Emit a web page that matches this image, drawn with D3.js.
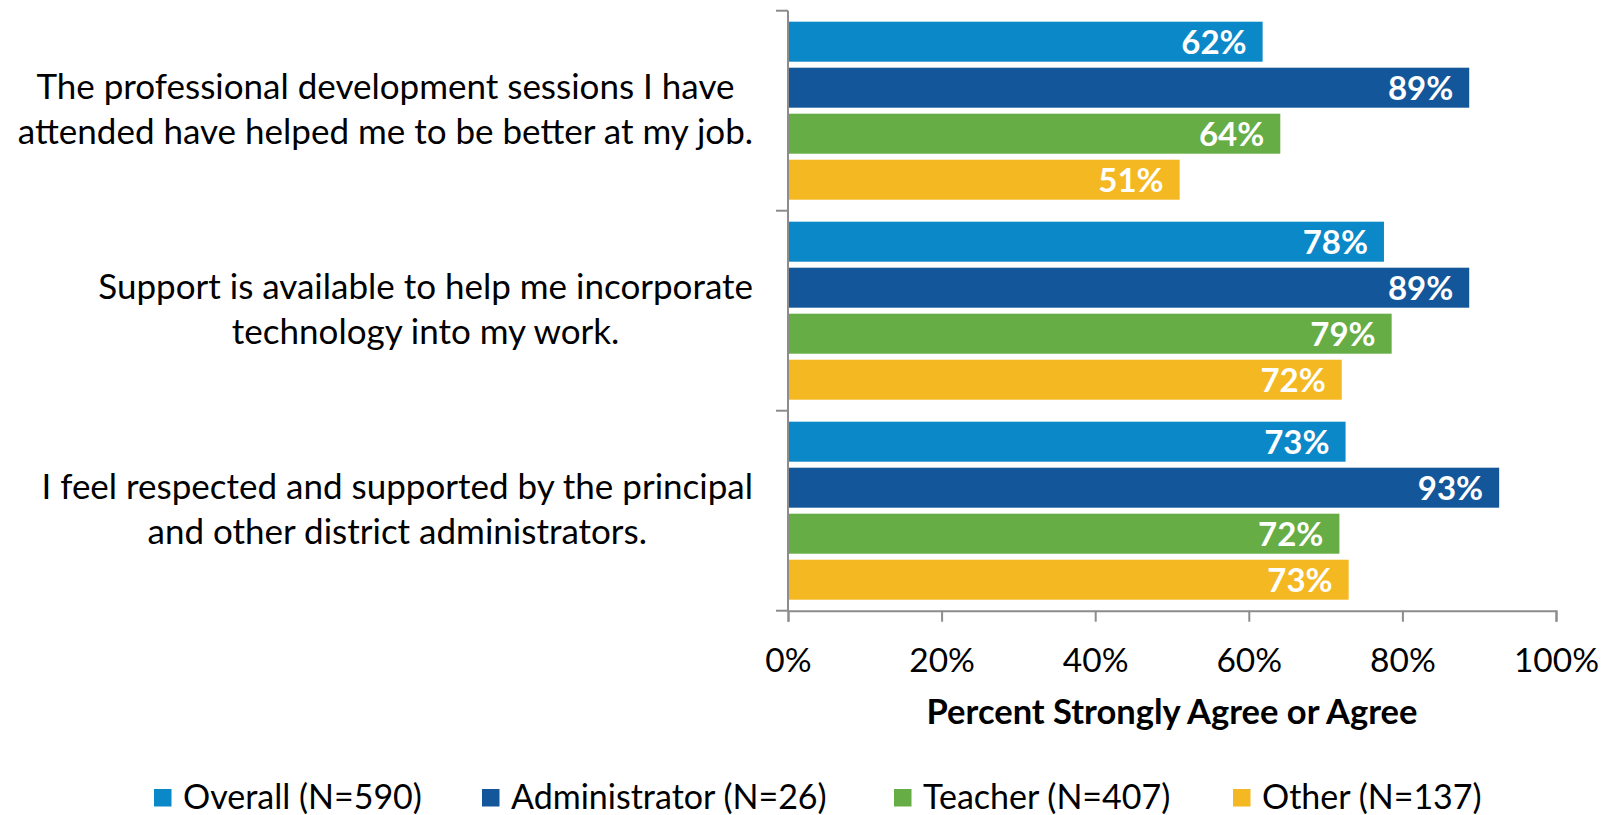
<!DOCTYPE html>
<html>
<head>
<meta charset="utf-8">
<script src="https://cdn.jsdelivr.net/npm/d3@7"></script>
<style>
  html, body { margin: 0; padding: 0; background: #fff; }
  svg { display: block; font-family: Lato, "Open Sans", sans-serif; }
</style>
</head>
<body>
<svg id="chart" width="1611" height="815"></svg>
<script>
// ---- data ----
const categories = [
  ["The professional development sessions I have", "attended have helped me to be better at my job."],
  ["Support is available to help me incorporate", "technology into my work."],
  ["I feel respected and supported by the principal", "and other district administrators."]
];
const seriesNames = ["Overall (N=590)", "Administrator (N=26)", "Teacher (N=407)", "Other (N=137)"];
const overall       = [61.8, 77.6, 72.6];
const administrator = [88.7, 88.7, 92.6];
const teacher       = [64.1, 78.6, 71.8];
const other         = [51.0, 72.1, 73.0];
const xTicks = [0, 20, 40, 60, 80, 100];
const xTitle = "Percent Strongly Agree or Agree";
const colors = ["#0B88C8", "#14569A", "#66AD46", "#F4B823"];

const series = [overall, administrator, teacher, other];

(function draw() {
const svg = d3.select("#chart");
const mLeft = 788, mRight = 1556, mTop = 10.7, mBottom = 610.7;

const x = d3.scaleLinear().domain([0, 100]).range([mLeft, mRight]);
const y0 = d3.scaleBand().domain(d3.range(categories.length)).range([mTop, mBottom]).padding(0);
const y1 = d3.scaleBand().domain(d3.range(series.length)).range([0, y0.bandwidth()])
  .paddingInner(0.1304).paddingOuter(0.2391);

// bars
const groups = svg.selectAll("g.grp").data(categories).join("g")
  .attr("class", "grp")
  .attr("transform", (d, i) => `translate(0,${y0(i)})`);

groups.each(function(cat, ci) {
  const g = d3.select(this);
  const rows = series.map((s, si) => ({ si, v: s[ci] }));
  g.selectAll("rect").data(rows).join("rect")
    .attr("x", x(0))
    .attr("y", d => y1(d.si))
    .attr("width", d => x(d.v) - x(0))
    .attr("height", y1.bandwidth())
    .attr("fill", d => colors[d.si]);
  g.selectAll("text.val").data(rows).join("text")
    .attr("class", "val")
    .attr("x", d => x(d.v) - 16)
    .attr("y", d => y1(d.si) + y1.bandwidth() / 2 + 12)
    .attr("text-anchor", "end")
    .attr("fill", "#fff")
    .attr("font-weight", 700)
    .attr("font-size", 33)
    .text(d => Math.round(d.v) + "%");
});

// category labels: block right-aligned near the axis, lines centred in the block
const labelRight = mLeft - 35;
const catG = svg.append("g");
categories.forEach((lines, i) => {
  const cy = y0(i) + y0.bandwidth() / 2;
  const t = catG.append("text")
    .attr("text-anchor", "middle")
    .attr("font-size", 35)
    .attr("fill", "#000");
  const spans = lines.map((ln, li) => t.append("tspan")
      .attr("y", cy + 10.7 + (li - (lines.length - 1) / 2) * 45.4)
      .text(ln));
  const maxW = d3.max(spans, s => s.node().getComputedTextLength());
  spans.forEach(s => s.attr("x", labelRight - maxW / 2));
});

// axes
const axisColor = "#8c8c8c";
const yAxisG = svg.append("g");
yAxisG.append("line")
  .attr("x1", mLeft).attr("x2", mLeft).attr("y1", mTop).attr("y2", mBottom)
  .attr("stroke", axisColor).attr("stroke-width", 2);
const yTickPos = d3.range(categories.length + 1).map(i => i === categories.length ? mBottom : y0(i));
yAxisG.selectAll("line.tk").data(yTickPos).join("line")
  .attr("class", "tk")
  .attr("x1", mLeft - 12).attr("x2", mLeft)
  .attr("y1", d => d).attr("y2", d => d)
  .attr("stroke", axisColor).attr("stroke-width", 2);

const xAxisG = svg.append("g").attr("transform", `translate(0,${mBottom})`)
  .call(d3.axisBottom(x).tickValues(xTicks).tickSize(11).tickPadding(27).tickFormat(d => d + "%"));
xAxisG.select(".domain").attr("stroke", axisColor).attr("stroke-width", 2);
xAxisG.selectAll(".tick line").attr("stroke", axisColor).attr("stroke-width", 2);
xAxisG.selectAll(".tick text")
  .attr("font-family", "Lato, sans-serif")
  .attr("font-size", 33.5)
  .attr("fill", "#000");

// axis title
svg.append("text")
  .attr("x", (mLeft + mRight) / 2)
  .attr("y", 724)
  .attr("text-anchor", "middle")
  .attr("font-weight", 700)
  .attr("font-size", 34.5)
  .attr("fill", "#000")
  .text(xTitle);

// legend
const legendX = [154, 482, 894, 1233];
const leg = svg.append("g");
seriesNames.forEach((name, i) => {
  leg.append("rect")
    .attr("x", legendX[i]).attr("y", 789)
    .attr("width", 17.5).attr("height", 17.5)
    .attr("fill", colors[i]);
  leg.append("text")
    .attr("x", legendX[i] + 29).attr("y", 809)
    .attr("font-size", 34)
    .attr("fill", "#000")
    .text(name);
});
})();
</script>
</body>
</html>
